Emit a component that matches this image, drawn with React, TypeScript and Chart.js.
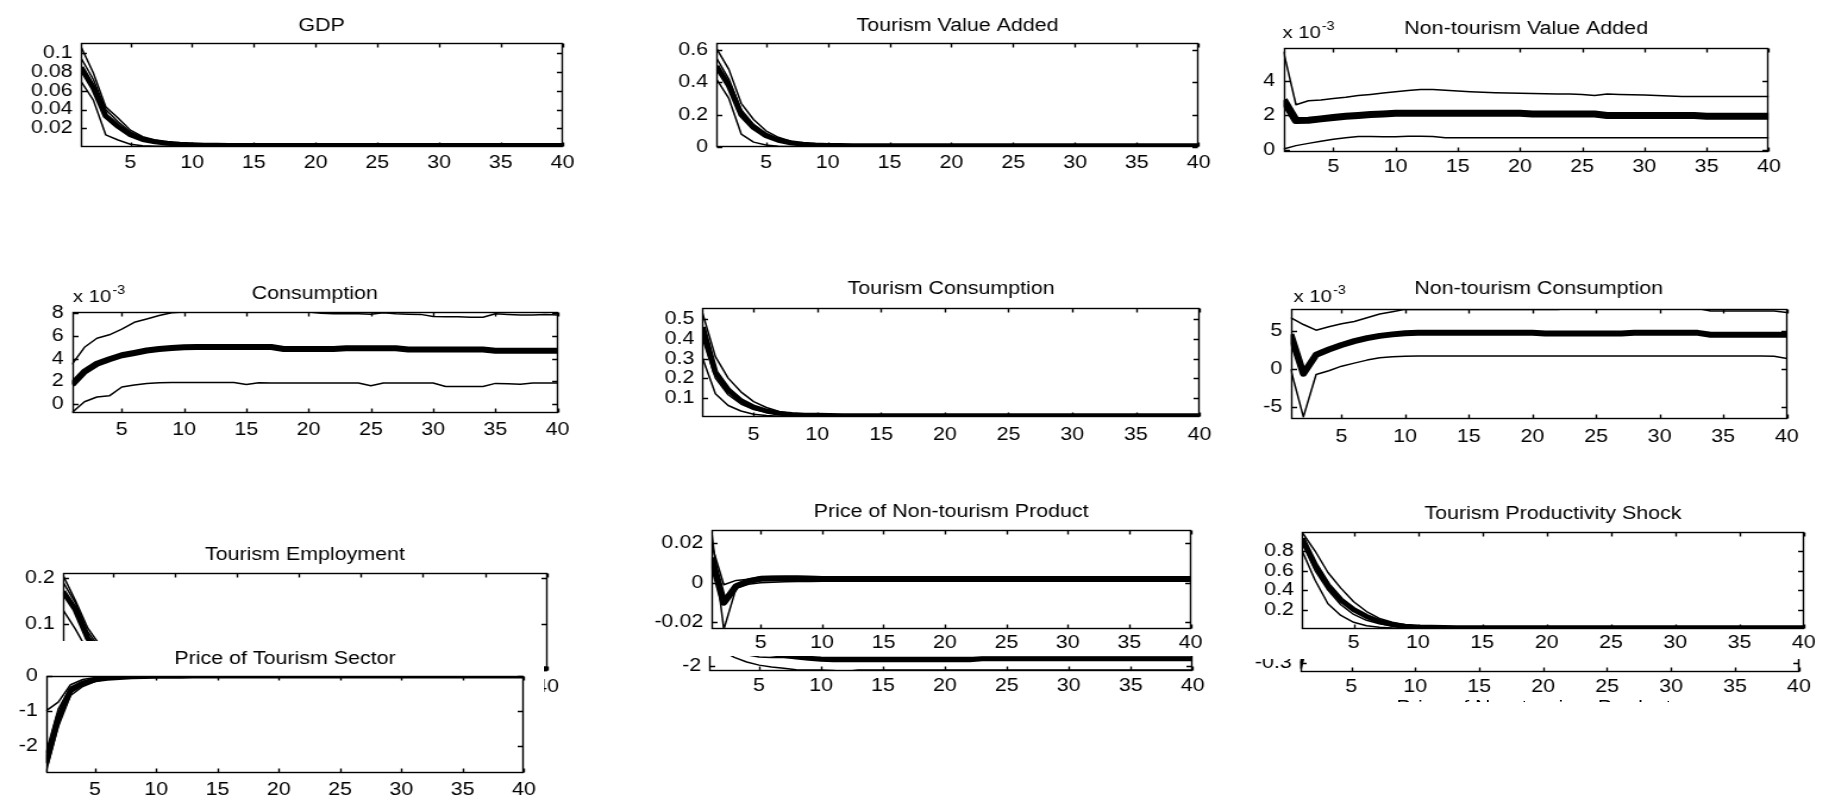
import React, { useEffect, useRef } from "react";
import { Chart, registerables } from "chart.js";

Chart.register(...registerables);

const FONT = '"Liberation Sans", Arial, Helvetica, sans-serif';
const S = 1.19; // horizontal stretch of the reference picture
const PAGE_W = 1828;
const PAGE_H = 801;

// ---------------- data ----------------
const horizon = [1, 2, 3, 4, 5, 6, 7, 8, 9, 10, 11, 12, 13, 14, 15, 16, 17, 18, 19, 20,
  21, 22, 23, 24, 25, 26, 27, 28, 29, 30, 31, 32, 33, 34, 35, 36, 37, 38, 39, 40];
const xTickValues = [5, 10, 15, 20, 25, 30, 35, 40];

// GDP
const gdpTicks = [0.02, 0.04, 0.06, 0.08, 0.1];
const gdpUpper = [0.107, 0.079, 0.043, 0.031, 0.018, 0.011, 0.0075, 0.005, 0.0035, 0.003,
  0.0025, 0.002, 0.002, 0.002, 0.002, 0.002, 0.002, 0.002, 0.002, 0.002,
  0.002, 0.002, 0.002, 0.002, 0.002, 0.002, 0.002, 0.002, 0.002, 0.002,
  0.002, 0.002, 0.002, 0.002, 0.002, 0.002, 0.002, 0.002, 0.002, 0.002];
const gdpInner = [0.095, 0.072, 0.04, 0.027, 0.016, 0.01, 0.0065, 0.0045, 0.0033, 0.0027,
  0.0022, 0.002, 0.002, 0.002, 0.002, 0.002, 0.002, 0.002, 0.002, 0.002,
  0.002, 0.002, 0.002, 0.002, 0.002, 0.002, 0.002, 0.002, 0.002, 0.002,
  0.002, 0.002, 0.002, 0.002, 0.002, 0.002, 0.002, 0.002, 0.002, 0.002];
const gdpMedian = [0.085, 0.063, 0.033, 0.022, 0.013, 0.008, 0.0055, 0.004, 0.003, 0.0025,
  0.002, 0.0018, 0.0016, 0.0015, 0.0015, 0.0015, 0.0015, 0.0015, 0.0015, 0.0015,
  0.0015, 0.0015, 0.0015, 0.0015, 0.0015, 0.0015, 0.0015, 0.0015, 0.0015, 0.0015,
  0.0015, 0.0015, 0.0015, 0.0015, 0.0015, 0.0015, 0.0015, 0.0015, 0.0015, 0.0015];
const gdpLower = [0.07, 0.05, 0.013, 0.0075, 0.003, 0.0014, 0.0009, 0.0007, 0.0006, 0.0005,
  0.0005, 0.0005, 0.0005, 0.0005, 0.0005, 0.0005, 0.0005, 0.0005, 0.0005, 0.0005,
  0.0005, 0.0005, 0.0005, 0.0005, 0.0005, 0.0005, 0.0005, 0.0005, 0.0005, 0.0005,
  0.0005, 0.0005, 0.0005, 0.0005, 0.0005, 0.0005, 0.0005, 0.0005, 0.0005, 0.0005];

// Tourism Value Added
const tvaTicks = [0, 0.2, 0.4, 0.6];
const tvaUpper = [0.61, 0.48, 0.27, 0.17, 0.1, 0.06, 0.036, 0.022, 0.015, 0.011,
  0.009, 0.008, 0.008, 0.008, 0.008, 0.008, 0.008, 0.008, 0.008, 0.008,
  0.008, 0.008, 0.008, 0.008, 0.008, 0.008, 0.008, 0.008, 0.008, 0.008,
  0.008, 0.008, 0.008, 0.008, 0.008, 0.008, 0.008, 0.008, 0.008, 0.008];
const tvaInner = [0.55, 0.42, 0.23, 0.14, 0.085, 0.05, 0.03, 0.019, 0.013, 0.01,
  0.009, 0.008, 0.008, 0.008, 0.008, 0.008, 0.008, 0.008, 0.008, 0.008,
  0.008, 0.008, 0.008, 0.008, 0.008, 0.008, 0.008, 0.008, 0.008, 0.008,
  0.008, 0.008, 0.008, 0.008, 0.008, 0.008, 0.008, 0.008, 0.008, 0.008];
const tvaMedian = [0.5, 0.38, 0.2, 0.12, 0.07, 0.042, 0.026, 0.017, 0.012, 0.01,
  0.009, 0.008, 0.008, 0.008, 0.008, 0.008, 0.008, 0.008, 0.008, 0.008,
  0.008, 0.008, 0.008, 0.008, 0.008, 0.008, 0.008, 0.008, 0.008, 0.008,
  0.008, 0.008, 0.008, 0.008, 0.008, 0.008, 0.008, 0.008, 0.008, 0.008];
const tvaLower = [0.42, 0.3, 0.08, 0.03, 0.012, 0.005, 0.003, 0.002, 0.0015, 0.001,
  0.001, 0.001, 0.001, 0.001, 0.001, 0.001, 0.001, 0.001, 0.001, 0.001,
  0.001, 0.001, 0.001, 0.001, 0.001, 0.001, 0.001, 0.001, 0.001, 0.001,
  0.001, 0.001, 0.001, 0.001, 0.001, 0.001, 0.001, 0.001, 0.001, 0.001];

// Non-tourism Value Added (x 10^-3)
const ntvaTicks = [0, 2, 4];
const ntvaUpper = [5.7, 2.62, 2.85, 2.9, 2.98, 3.05, 3.15, 3.22, 3.3, 3.38,
  3.45, 3.5, 3.5, 3.46, 3.42, 3.38, 3.35, 3.32, 3.3, 3.28,
  3.27, 3.26, 3.25, 3.24, 3.22, 3.15, 3.24, 3.22, 3.2, 3.18,
  3.15, 3.12, 3.1, 3.1, 3.1, 3.1, 3.1, 3.1, 3.1, 3.1];
const ntvaMedian = [2.9, 1.7, 1.72, 1.8, 1.88, 1.95, 2.0, 2.05, 2.08, 2.12,
  2.12, 2.12, 2.12, 2.12, 2.12, 2.12, 2.12, 2.12, 2.12, 2.12,
  2.08, 2.08, 2.08, 2.08, 2.08, 2.08, 2.0, 2.0, 2.0, 2.0,
  2.0, 2.0, 2.0, 2.0, 1.95, 1.95, 1.95, 1.95, 1.95, 1.95];
const ntvaLower = [0.05, 0.25, 0.38, 0.5, 0.62, 0.7, 0.78, 0.78, 0.76, 0.77,
  0.8, 0.8, 0.78, 0.7, 0.7, 0.7, 0.7, 0.7, 0.7, 0.7,
  0.7, 0.7, 0.7, 0.7, 0.7, 0.7, 0.7, 0.7, 0.7, 0.7,
  0.7, 0.7, 0.7, 0.7, 0.7, 0.7, 0.7, 0.7, 0.7, 0.7];

// Consumption (x 10^-3)
const consTicks = [0, 2, 4, 6, 8];
const consUpper = [3.5, 5.0, 5.8, 6.1, 6.6, 7.2, 7.5, 7.8, 8.05, 8.1,
  8.1, 8.1, 8.1, 8.1, 8.1, 8.1, 8.12, 8.12, 8.12, 8.12,
  8.0, 7.95, 7.95, 7.95, 7.92, 8.05, 7.95, 7.92, 7.9, 7.72,
  7.7, 7.7, 7.65, 7.65, 7.95, 7.9, 7.85, 7.85, 7.9, 7.85];
const consMedian = [1.7, 2.85, 3.55, 3.95, 4.3, 4.5, 4.72, 4.85, 4.93, 5.0,
  5.02, 5.02, 5.02, 5.02, 5.02, 5.02, 5.02, 4.85, 4.85, 4.85,
  4.85, 4.85, 4.92, 4.92, 4.92, 4.92, 4.92, 4.8, 4.8, 4.8,
  4.8, 4.8, 4.8, 4.8, 4.7, 4.7, 4.7, 4.7, 4.7, 4.7];
const consLower = [-0.75, 0.2, 0.62, 0.72, 1.5, 1.68, 1.8, 1.88, 1.9, 1.9,
  1.9, 1.9, 1.9, 1.9, 1.72, 1.88, 1.85, 1.85, 1.85, 1.85,
  1.85, 1.85, 1.85, 1.85, 1.62, 1.85, 1.85, 1.85, 1.85, 1.85,
  1.55, 1.55, 1.55, 1.55, 1.82, 1.78, 1.75, 1.85, 1.85, 1.85];

// Tourism Consumption
const tcTicks = [0.1, 0.2, 0.3, 0.4, 0.5];
const tcUpper = [0.53, 0.31, 0.2, 0.13, 0.08, 0.05, 0.03, 0.02, 0.015, 0.012,
  0.01, 0.009, 0.008, 0.008, 0.008, 0.008, 0.008, 0.008, 0.008, 0.008,
  0.008, 0.008, 0.008, 0.008, 0.008, 0.008, 0.008, 0.008, 0.008, 0.008,
  0.008, 0.008, 0.008, 0.008, 0.008, 0.008, 0.008, 0.008, 0.008, 0.008];
const tcInner = [0.4, 0.2, 0.115, 0.068, 0.04, 0.025, 0.016, 0.012, 0.01, 0.009,
  0.008, 0.008, 0.008, 0.008, 0.008, 0.008, 0.008, 0.008, 0.008, 0.008,
  0.008, 0.008, 0.008, 0.008, 0.008, 0.008, 0.008, 0.008, 0.008, 0.008,
  0.008, 0.008, 0.008, 0.008, 0.008, 0.008, 0.008, 0.008, 0.008, 0.008];
const tcMedian = [0.46, 0.23, 0.14, 0.085, 0.052, 0.032, 0.02, 0.014, 0.011, 0.01,
  0.009, 0.008, 0.008, 0.008, 0.008, 0.008, 0.008, 0.008, 0.008, 0.008,
  0.008, 0.008, 0.008, 0.008, 0.008, 0.008, 0.008, 0.008, 0.008, 0.008,
  0.008, 0.008, 0.008, 0.008, 0.008, 0.008, 0.008, 0.008, 0.008, 0.008];
const tcLower = [0.3, 0.12, 0.06, 0.032, 0.016, 0.009, 0.005, 0.004, 0.003, 0.003,
  0.003, 0.003, 0.003, 0.003, 0.003, 0.003, 0.003, 0.003, 0.003, 0.003,
  0.003, 0.003, 0.003, 0.003, 0.003, 0.003, 0.003, 0.003, 0.003, 0.003,
  0.003, 0.003, 0.003, 0.003, 0.003, 0.003, 0.003, 0.003, 0.003, 0.003];

// Non-tourism Consumption (x 10^-3)
const ntcTicks = [-5, 0, 5];
const ntcUpper = [6.8, 5.9, 5.15, 5.6, 6.0, 6.3, 6.8, 7.3, 7.6, 7.9,
  7.9, 7.9, 7.9, 7.9, 7.9, 7.9, 7.9, 7.9, 7.9, 7.9,
  7.9, 7.9, 8.0, 8.0, 8.0, 8.0, 8.0, 8.0, 8.0, 8.0,
  8.0, 8.0, 8.0, 7.7, 7.7, 7.7, 7.7, 7.7, 7.7, 7.5];
const ntcMedian = [4.6, -0.6, 1.9, 2.6, 3.2, 3.7, 4.1, 4.4, 4.6, 4.75,
  4.8, 4.8, 4.8, 4.8, 4.8, 4.8, 4.8, 4.8, 4.8, 4.8,
  4.7, 4.7, 4.7, 4.7, 4.7, 4.7, 4.7, 4.8, 4.8, 4.8,
  4.8, 4.8, 4.8, 4.55, 4.55, 4.55, 4.55, 4.55, 4.55, 4.55];
const ntcLower = [0.0, -6.3, -0.7, -0.2, 0.4, 0.8, 1.2, 1.5, 1.65, 1.72,
  1.75, 1.75, 1.75, 1.75, 1.75, 1.75, 1.75, 1.75, 1.75, 1.75,
  1.75, 1.75, 1.75, 1.75, 1.75, 1.75, 1.75, 1.75, 1.75, 1.75,
  1.75, 1.75, 1.75, 1.75, 1.75, 1.75, 1.75, 1.75, 1.7, 1.4];

// Tourism Employment
const teTicks = [0, 0.1, 0.2];
const teUpper = [0.205, 0.15, 0.09, 0.052, 0.03, 0.017, 0.01, 0.007, 0.005, 0.004,
  0.003, 0.003, 0.003, 0.003, 0.003, 0.003, 0.003, 0.003, 0.003, 0.003,
  0.003, 0.003, 0.003, 0.003, 0.003, 0.003, 0.003, 0.003, 0.003, 0.003,
  0.003, 0.003, 0.003, 0.003, 0.003, 0.003, 0.003, 0.003, 0.003, 0.003];
const teInner = [0.19, 0.145, 0.082, 0.046, 0.026, 0.015, 0.009, 0.006, 0.004, 0.003,
  0.003, 0.003, 0.003, 0.003, 0.003, 0.003, 0.003, 0.003, 0.003, 0.003,
  0.003, 0.003, 0.003, 0.003, 0.003, 0.003, 0.003, 0.003, 0.003, 0.003,
  0.003, 0.003, 0.003, 0.003, 0.003, 0.003, 0.003, 0.003, 0.003, 0.003];
const teMedian = [0.17, 0.13, 0.068, 0.04, 0.022, 0.012, 0.007, 0.005, 0.004, 0.003,
  0.002, 0.002, 0.002, 0.002, 0.002, 0.002, 0.002, 0.002, 0.002, 0.002,
  0.002, 0.002, 0.002, 0.002, 0.002, 0.002, 0.002, 0.002, 0.002, 0.002,
  0.002, 0.002, 0.002, 0.002, 0.002, 0.002, 0.002, 0.002, 0.002, 0.002];
const teLower = [0.13, 0.088, 0.04, 0.02, 0.01, 0.005, 0.003, 0.002, 0.001, 0.001,
  0.001, 0.001, 0.001, 0.001, 0.001, 0.001, 0.001, 0.001, 0.001, 0.001,
  0.001, 0.001, 0.001, 0.001, 0.001, 0.001, 0.001, 0.001, 0.001, 0.001,
  0.001, 0.001, 0.001, 0.001, 0.001, 0.001, 0.001, 0.001, 0.001, 0.001];

// Price of Tourism Sector
const ptsTicks = [-2, -1, 0];
const ptsUpper = [-1.0, -0.75, -0.25, -0.1, -0.045, -0.02, -0.01, -0.005, 0, 0,
  0, 0, 0, 0, 0, 0, 0, 0, 0, 0,
  0, 0, 0, 0, 0, 0, 0, 0, 0, 0,
  0, 0, 0, 0, 0, 0, 0, 0, 0, 0];
const ptsInner = [-2.2, -0.95, -0.32, -0.15, -0.075, -0.038, -0.02, -0.012, -0.006, -0.003,
  0, 0, 0, 0, 0, 0, 0, 0, 0, 0,
  0, 0, 0, 0, 0, 0, 0, 0, 0, 0,
  0, 0, 0, 0, 0, 0, 0, 0, 0, 0];
const ptsMedian = [-2.5, -1.2, -0.42, -0.21, -0.11, -0.065, -0.04, -0.025, -0.015, -0.01,
  -0.006, -0.004, -0.002, 0, 0, 0, 0, 0, 0, 0,
  0, 0, 0, 0, 0, 0, 0, 0, 0, 0,
  0, 0, 0, 0, 0, 0, 0, 0, 0, 0];
const ptsLower = [-2.75, -1.45, -0.56, -0.3, -0.16, -0.09, -0.055, -0.035, -0.022, -0.014,
  -0.009, -0.006, -0.004, -0.002, 0, 0, 0, 0, 0, 0,
  0, 0, 0, 0, 0, 0, 0, 0, 0, 0,
  0, 0, 0, 0, 0, 0, 0, 0, 0, 0];

// Price of Non-tourism Product
const pntpTicks = [-0.02, 0, 0.02];
const pntpBandA = [0.026, -0.0236, -0.0028, -0.0008, 0.0, 0.0003, 0.0005, 0.0006, 0.0007, 0.0008,
  0.0008, 0.0008, 0.0008, 0.0008, 0.0008, 0.0008, 0.0008, 0.0008, 0.0008, 0.0008,
  0.0008, 0.0008, 0.0008, 0.0008, 0.0008, 0.0008, 0.0008, 0.0008, 0.0008, 0.0008,
  0.0008, 0.0008, 0.0008, 0.0008, 0.0008, 0.0008, 0.0008, 0.0008, 0.0008, 0.0008];
const pntpBandB = [0.0195, -0.001, 0.0012, 0.0018, 0.003, 0.0032, 0.0033, 0.0033, 0.0032, 0.0031,
  0.003, 0.003, 0.003, 0.003, 0.003, 0.003, 0.003, 0.003, 0.003, 0.003,
  0.003, 0.003, 0.003, 0.003, 0.003, 0.003, 0.003, 0.003, 0.003, 0.003,
  0.003, 0.003, 0.003, 0.003, 0.003, 0.003, 0.003, 0.003, 0.003, 0.003];
const pntpMedian = [0.0127, -0.0101, -0.0017, 0.0008, 0.002, 0.0022, 0.0022, 0.0021, 0.002, 0.0019,
  0.0019, 0.0019, 0.0019, 0.0019, 0.0019, 0.0019, 0.0019, 0.0019, 0.0019, 0.0019,
  0.0019, 0.0019, 0.0019, 0.0019, 0.0019, 0.0019, 0.0019, 0.0019, 0.0019, 0.0019,
  0.0019, 0.0019, 0.0019, 0.0019, 0.0019, 0.0019, 0.0019, 0.0019, 0.0019, 0.0019];

// partly hidden panel below "Price of Non-tourism Product"
const hiddenATicks = [-2, -1, 0];
const hiddenAMedian = [-0.5, -1.0, -1.35, -1.55, -1.66, -1.72, -1.76, -1.79, -1.82, -1.84,
  -1.85, -1.85, -1.85, -1.85, -1.85, -1.85, -1.85, -1.85, -1.85, -1.85,
  -1.85, -1.85, -1.83, -1.83, -1.83, -1.83, -1.83, -1.83, -1.83, -1.83,
  -1.83, -1.83, -1.83, -1.83, -1.83, -1.83, -1.83, -1.83, -1.83, -1.83];
const hiddenALow = [-1.4, -1.65, -1.8, -1.9, -1.97, -2.01, -2.04, -2.07, -2.08, -2.08,
  -2.09, -2.11, -2.08, -2.08, -2.08, -2.08, -2.08, -2.08, -2.08, -2.08,
  -2.08, -2.08, -2.08, -2.08, -2.08, -2.08, -2.08, -2.08, -2.08, -2.08,
  -2.08, -2.08, -2.08, -2.08, -2.08, -2.08, -2.08, -2.08, -2.08, -2.08];
const hiddenAHigh = [-0.8, -1.3, -1.6, -1.74, -1.79, -1.8, -1.8, -1.8, -1.8, -1.8,
  -1.8, -1.8, -1.8, -1.8, -1.8, -1.8, -1.8, -1.8, -1.8, -1.8,
  -1.8, -1.8, -1.8, -1.8, -1.8, -1.8, -1.8, -1.8, -1.8, -1.8,
  -1.8, -1.8, -1.8, -1.8, -1.8, -1.8, -1.8, -1.8, -1.8, -1.8];

// Tourism Productivity Shock
const tpsTicks = [0.2, 0.4, 0.6, 0.8];
const tpsUpper = [0.99, 0.8, 0.58, 0.42, 0.28, 0.18, 0.11, 0.07, 0.045, 0.03,
  0.022, 0.018, 0.016, 0.015, 0.015, 0.015, 0.015, 0.015, 0.015, 0.015,
  0.015, 0.015, 0.015, 0.015, 0.015, 0.015, 0.015, 0.015, 0.015, 0.015,
  0.015, 0.015, 0.015, 0.015, 0.015, 0.015, 0.015, 0.015, 0.015, 0.015];
const tpsInner = [0.88, 0.6, 0.4, 0.25, 0.15, 0.09, 0.055, 0.035, 0.025, 0.02,
  0.017, 0.015, 0.015, 0.015, 0.015, 0.015, 0.015, 0.015, 0.015, 0.015,
  0.015, 0.015, 0.015, 0.015, 0.015, 0.015, 0.015, 0.015, 0.015, 0.015,
  0.015, 0.015, 0.015, 0.015, 0.015, 0.015, 0.015, 0.015, 0.015, 0.015];
const tpsMedian = [0.93, 0.66, 0.45, 0.3, 0.2, 0.13, 0.078, 0.045, 0.03, 0.022,
  0.018, 0.016, 0.015, 0.015, 0.015, 0.015, 0.015, 0.015, 0.015, 0.015,
  0.015, 0.015, 0.015, 0.015, 0.015, 0.015, 0.015, 0.015, 0.015, 0.015,
  0.015, 0.015, 0.015, 0.015, 0.015, 0.015, 0.015, 0.015, 0.015, 0.015];
const tpsLower = [0.8, 0.5, 0.26, 0.14, 0.07, 0.035, 0.018, 0.01, 0.006, 0.004,
  0.003, 0.003, 0.003, 0.003, 0.003, 0.003, 0.003, 0.003, 0.003, 0.003,
  0.003, 0.003, 0.003, 0.003, 0.003, 0.003, 0.003, 0.003, 0.003, 0.003,
  0.003, 0.003, 0.003, 0.003, 0.003, 0.003, 0.003, 0.003, 0.003, 0.003];

// partly hidden panel below "Tourism Productivity Shock"
const hiddenBTicks = [-0.3];
const hiddenBMedian = [-0.36, 0.25, 0.35, 0.3, 0.22, 0.15, 0.1, 0.07, 0.05, 0.04,
  0.03, 0.03, 0.03, 0.03, 0.03, 0.03, 0.03, 0.03, 0.03, 0.03,
  0.03, 0.03, 0.03, 0.03, 0.03, 0.03, 0.03, 0.03, 0.03, 0.03,
  0.03, 0.03, 0.03, 0.03, 0.03, 0.03, 0.03, 0.03, 0.03, 0.03];
const hiddenBBand = [-0.3, 0.15, 0.25, 0.2, 0.15, 0.1, 0.06, 0.04, 0.03, 0.02,
  0.02, 0.02, 0.02, 0.02, 0.02, 0.02, 0.02, 0.02, 0.02, 0.02,
  0.02, 0.02, 0.02, 0.02, 0.02, 0.02, 0.02, 0.02, 0.02, 0.02,
  0.02, 0.02, 0.02, 0.02, 0.02, 0.02, 0.02, 0.02, 0.02, 0.02];

// ---------------- layout (full-picture pixel coordinates) ----------------
const THIN = 1.5;

type Line = { values: number[]; width: number };
type PanelCfg = {
  id: string;
  title?: string;
  titleBase?: number;
  exp?: { x: number; base: number };
  canvas: [number, number, number, number];
  plot: [number, number, number, number];
  yMin: number;
  yMax: number;
  yTicks: number[];
  xLabelGap: number;
  lines: Line[];
  white?: boolean;
  z: number;
};

const panels: PanelCfg[] = [
  {
    id: "gdp", title: "GDP", titleBase: 30.5,
    canvas: [0, 0, 610, 185], plot: [81, 43, 562, 147],
    yMin: 0, yMax: 0.111, yTicks: gdpTicks, xLabelGap: 16, z: 1,
    lines: [{ values: gdpUpper, width: THIN }, { values: gdpInner, width: THIN }, { values: gdpLower, width: THIN }, { values: gdpMedian, width: 5 }],
  },
  {
    id: "tva", title: "Tourism Value Added", titleBase: 30.5,
    canvas: [610, 0, 1225, 185], plot: [716, 43, 1198, 147],
    yMin: 0, yMax: 0.643, yTicks: tvaTicks, xLabelGap: 16, z: 1,
    lines: [{ values: tvaUpper, width: THIN }, { values: tvaInner, width: THIN }, { values: tvaLower, width: THIN }, { values: tvaMedian, width: 5 }],
  },
  {
    id: "ntva", title: "Non-tourism Value Added", titleBase: 33.5, exp: { x: 1283, base: 38 },
    canvas: [1225, 0, 1828, 185], plot: [1284, 48, 1769, 152],
    yMin: -0.12, yMax: 5.91, yTicks: ntvaTicks, xLabelGap: 15, z: 1,
    lines: [{ values: ntvaUpper, width: THIN }, { values: ntvaLower, width: THIN }, { values: ntvaMedian, width: 7 }],
  },
  {
    id: "cons", title: "Consumption", titleBase: 298.5, exp: { x: 73, base: 302 },
    canvas: [0, 255, 612, 460], plot: [72, 312, 558, 413],
    yMin: -0.79, yMax: 8.11, yTicks: consTicks, xLabelGap: 17, z: 1,
    lines: [{ values: consUpper, width: THIN }, { values: consLower, width: THIN }, { values: consMedian, width: 6 }],
  },
  {
    id: "tc", title: "Tourism Consumption", titleBase: 293.5,
    canvas: [612, 255, 1232, 460], plot: [703, 308, 1200, 417],
    yMin: 0.0015, yMax: 0.558, yTicks: tcTicks, xLabelGap: 18, z: 1,
    lines: [{ values: tcUpper, width: THIN }, { values: tcInner, width: THIN }, { values: tcLower, width: THIN }, { values: tcMedian, width: 5 }],
  },
  {
    id: "ntc", title: "Non-tourism Consumption", titleBase: 293.5, exp: { x: 1294, base: 302 },
    canvas: [1232, 255, 1828, 460], plot: [1291, 309, 1787, 419],
    yMin: -6.58, yMax: 7.95, yTicks: ntcTicks, xLabelGap: 18, z: 1,
    lines: [{ values: ntcUpper, width: THIN }, { values: ntcLower, width: THIN }, { values: ntcMedian, width: 6 }],
  },
  {
    id: "te", title: "Tourism Employment", titleBase: 559.5,
    canvas: [0, 530, 620, 710], plot: [63, 573, 547, 671],
    yMin: -0.003, yMax: 0.21, yTicks: teTicks, xLabelGap: 16, z: 1,
    lines: [{ values: teUpper, width: THIN }, { values: teInner, width: THIN }, { values: teLower, width: THIN }, { values: teMedian, width: 5 }],
  },
  {
    id: "pts", title: "Price of Tourism Sector", titleBase: 663.5,
    canvas: [0, 641, 544, 801], plot: [46, 676, 524, 773],
    yMin: -2.78, yMax: 0, yTicks: ptsTicks, xLabelGap: 17, z: 2, white: true,
    lines: [{ values: ptsUpper, width: THIN }, { values: ptsInner, width: THIN }, { values: ptsLower, width: THIN }, { values: ptsMedian, width: 5 }],
  },
  {
    id: "hiddenA",
    canvas: [630, 540, 1232, 700], plot: [710, 576, 1193, 671],
    yMin: -2.1, yMax: 0, yTicks: hiddenATicks, xLabelGap: 15, z: 1,
    lines: [{ values: hiddenAHigh, width: THIN }, { values: hiddenALow, width: THIN }, { values: hiddenAMedian, width: 5 }],
  },
  {
    id: "pntp", title: "Price of Non-tourism Product", titleBase: 516.5,
    canvas: [630, 490, 1232, 656], plot: [712, 530, 1191, 629],
    yMin: -0.0234, yMax: 0.0267, yTicks: pntpTicks, xLabelGap: 14, z: 2, white: true,
    lines: [{ values: pntpBandA, width: THIN }, { values: pntpBandB, width: THIN }, { values: pntpMedian, width: 6 }],
  },
  {
    id: "hiddenB",
    canvas: [1235, 540, 1828, 700], plot: [1300, 576, 1799, 672],
    yMin: -0.4, yMax: 0.7, yTicks: hiddenBTicks, xLabelGap: 15, z: 1,
    lines: [{ values: hiddenBBand, width: THIN }, { values: hiddenBMedian, width: 3 }],
  },
  {
    id: "tps", title: "Tourism Productivity Shock", titleBase: 518.5,
    canvas: [1235, 492, 1828, 659], plot: [1302, 532, 1804, 629],
    yMin: 0.001, yMax: 0.995, yTicks: tpsTicks, xLabelGap: 14, z: 2, white: true,
    lines: [{ values: tpsUpper, width: THIN }, { values: tpsInner, width: THIN }, { values: tpsLower, width: THIN }, { values: tpsMedian, width: 5 }],
  },
];

const fmt = (v: number) => String(parseFloat(v.toFixed(6)));

function makeFramePlugin(cfg: PanelCfg) {
  const [x0, y0] = cfg.canvas;
  return {
    id: "matlabFrame_" + cfg.id,
    beforeDraw(chart: any) {
      if (!cfg.white) return;
      const ctx = chart.ctx;
      ctx.save();
      ctx.fillStyle = "#ffffff";
      ctx.fillRect(0, 0, chart.width, chart.height);
      ctx.restore();
    },
    afterDatasetsDraw(chart: any) {
      const ctx = chart.ctx;
      const a = chart.chartArea;
      const xs = chart.scales.x;
      const ys = chart.scales.y;
      const l = Math.round(a.left) + 0.5;
      const r = Math.round(a.right) - 0.5;
      const t = Math.round(a.top) + 0.5;
      const b = Math.round(a.bottom) - 0.5;
      ctx.save();
      ctx.strokeStyle = "#000";
      ctx.lineWidth = 1.4;
      ctx.strokeRect(l, t, r - l, b - t);
      ctx.beginPath();
      for (const tk of xs.ticks) {
        const px = Math.round(xs.getPixelForValue(tk.value)) + 0.5;
        ctx.moveTo(px, b); ctx.lineTo(px, b - 4);
        ctx.moveTo(px, t); ctx.lineTo(px, t + 4);
      }
      for (const tk of ys.ticks) {
        const py = Math.round(ys.getPixelForValue(tk.value)) + 0.5;
        ctx.moveTo(l, py); ctx.lineTo(l + 4.5, py);
        ctx.moveTo(r, py); ctx.lineTo(r - 4.5, py);
      }
      ctx.stroke();
      ctx.fillStyle = "#000";
      if (cfg.title) {
        ctx.font = `18px ${FONT}`;
        ctx.textAlign = "center";
        ctx.textBaseline = "alphabetic";
        ctx.fillText(cfg.title, (a.left + a.right) / 2, (cfg.titleBase as number) - y0);
      }
      if (cfg.exp) {
        const ex = (cfg.exp.x - x0) / S;
        const eb = cfg.exp.base - y0;
        ctx.font = `17px ${FONT}`;
        ctx.textAlign = "left";
        ctx.textBaseline = "alphabetic";
        ctx.fillText("x 10", ex, eb);
        const w = ctx.measureText("x 10").width;
        ctx.font = `12px ${FONT}`;
        ctx.fillText("-3", ex + w + 1, eb - 8);
      }
      ctx.restore();
    },
  };
}

function Panel({ cfg }: { cfg: PanelCfg }) {
  const ref = useRef<HTMLCanvasElement | null>(null);
  const [x0, y0, x1, y1] = cfg.canvas;
  const w = Math.round((x1 - x0) / S);
  const h = y1 - y0;

  useEffect(() => {
    const canvas = ref.current;
    if (!canvas) return;
    const [L, T, R, B] = cfg.plot;
    const yAxisWidth = (L - x0) / S - 4;
    const xAxisHeight = y1 - B - 2;
    const chart = new Chart(canvas, {
      type: "line",
      data: {
        datasets: cfg.lines.map((ln) => ({
          data: horizon.map((hz, i) => ({ x: hz, y: ln.values[i] })),
          borderColor: "#000000",
          backgroundColor: "#000000",
          borderWidth: ln.width,
          pointRadius: 0,
          tension: 0,
          fill: false,
          clip: 0,
          borderJoinStyle: "round" as const,
        })),
      },
      options: {
        animation: false,
        responsive: false,
        maintainAspectRatio: false,
        devicePixelRatio: 1,
        events: [],
        layout: {
          padding: { left: 4, right: (x1 - R) / S, top: T - y0, bottom: 2 },
        },
        plugins: { legend: { display: false }, tooltip: { enabled: false }, title: { display: false } },
        scales: {
          x: {
            type: "linear",
            min: 1,
            max: 40,
            grid: { display: false, drawTicks: false, tickLength: 0 },
            border: { display: false },
            afterBuildTicks: (s: any) => { s.ticks = xTickValues.map((v) => ({ value: v })); },
            afterFit: (s: any) => { s.height = xAxisHeight; },
            ticks: {
              autoSkip: false,
              maxRotation: 0,
              minRotation: 0,
              padding: cfg.xLabelGap - 10.8,
              color: "#000",
              font: { family: FONT, size: 18 },
              callback: (v: any) => String(v),
            },
          },
          y: {
            type: "linear",
            min: cfg.yMin,
            max: cfg.yMax,
            grid: { display: false, drawTicks: false, tickLength: 0 },
            border: { display: false },
            afterBuildTicks: (s: any) => { s.ticks = cfg.yTicks.map((v) => ({ value: v })); },
            afterFit: (s: any) => { s.width = yAxisWidth; },
            ticks: {
              autoSkip: false,
              padding: 7,
              color: "#000",
              font: { family: FONT, size: 18 },
              callback: (v: any) => fmt(Number(v)),
            },
          },
        },
      },
      plugins: [makeFramePlugin(cfg)],
    } as any);
    return () => chart.destroy();
  }, []);

  return (
    <canvas
      ref={ref}
      width={w}
      height={h}
      style={{ position: "absolute", left: x0 / S, top: y0, width: w, height: h, zIndex: cfg.z, display: "block" }}
    />
  );
}

export default function App() {
  useEffect(() => {
    document.documentElement.style.overflow = "hidden";
    document.body.style.overflow = "hidden";
    document.body.style.background = "#ffffff";
  }, []);

  const hiddenTitleCx = 1534 / S;
  return (
    <div
      style={{
        position: "absolute",
        left: 0,
        top: 0,
        width: PAGE_W / S,
        height: PAGE_H,
        overflow: "hidden",
        background: "#ffffff",
        transform: `scaleX(${S})`,
        transformOrigin: "0 0",
        fontFamily: FONT,
      }}
    >
      {panels.map((p) => (
        <Panel key={p.id} cfg={p} />
      ))}
      <div
        style={{ position: "absolute", left: hiddenTitleCx - 200, top: 699, width: 400, height: 3, overflow: "hidden", zIndex: 1 }}
      >
        <div
          style={{ position: "absolute", left: 0, top: -1, width: 400, textAlign: "center", fontSize: 18, lineHeight: "18px", color: "#000", whiteSpace: "nowrap" }}
        >
          Price of Non-tourism Product
        </div>
      </div>
    </div>
  );
}
